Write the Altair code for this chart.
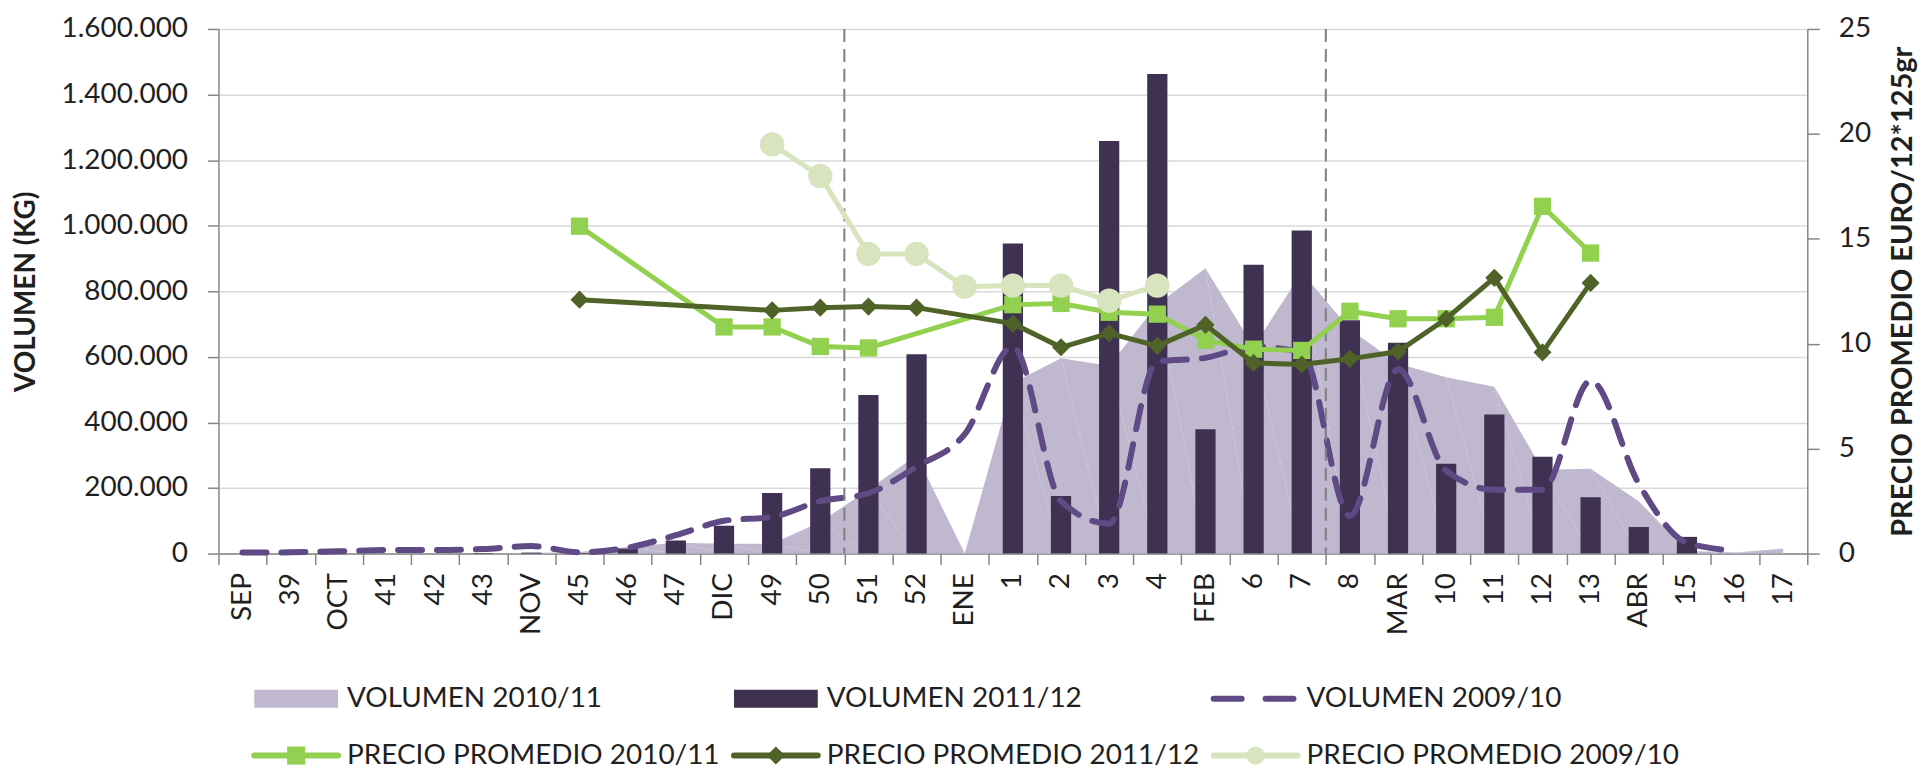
import altair as alt
import pandas as pd

# ---------------- data ----------------
cats = ["SEP", "39", "OCT", "41", "42", "43", "NOV", "45", "46", "47", "DIC", "49", "50",
        "51", "52", "ENE", "1", "2", "3", "4", "FEB", "6", "7", "8", "MAR", "10", "11",
        "12", "13", "ABR", "15", "16", "17"]

vol_2010_11 = [0, 0, 0, 0, 0, 0, 2000, 5000, 20000, 33000, 30000, 30000, 96000,
               195000, 300000, 0, 521000, 596000, 573000, 760000, 870000, 630000, 858000,
               684000, 579000, 538000, 509000, 256000, 259000, 160000, 9000, 3000, 15000]

vol_2011_12 = [0, 0, 0, 0, 0, 2000, 3000, 2000, 15000, 40000, 85000, 185000, 260000,
               484000, 608000, 0, 946000, 176000, 1258000, 1463000, 379000, 881000, 985000,
               712000, 643000, 274000, 424000, 295000, 172000, 81000, 51000, 0, 0]

vol_2009_10 = [3000, 4000, 7000, 11000, 11000, 14000, 23000, 4000, 18000, 56000, 100000,
               112000, 160000, 184000, 265000, 364000, 631000, 160000, 91000, 585000,
               597000, 631000, 614000, 115000, 562000, 253000, 195000, 195000, 527000,
               213000, 33000, 9000, None]

precio_2010_11 = [None, None, None, None, None, None, None, 15.6, None, None, 10.8, 10.8,
                  9.87, 9.8, None, None, 11.86, 11.92, 11.5, 11.41, 10.17, 9.74, 9.68,
                  11.55, 11.19, 11.19, 11.26, 16.55, 14.32, None, None, None, None]

precio_2011_12 = [None, None, None, None, None, None, None, 12.1, None, None, None, 11.59,
                  11.72, 11.77, 11.72, None, 10.96, 9.83, 10.5, 9.9, 10.9, 9.08, 9.01,
                  9.28, 9.63, 11.19, 13.14, 9.59, 12.9, None, None, None, None]

precio_2009_10 = [None, None, None, None, None, None, None, None, None, None, None, 19.5,
                  17.99, 14.28, 14.28, 12.72, 12.77, 12.77, 12.05, 12.77, None, None, None,
                  None, None, None, None, None, None, None, None, None, None]

separadores = ["51", "8"]

legend_labels = ["VOLUMEN 2010/11", "VOLUMEN 2011/12", "VOLUMEN 2009/10",
                 "PRECIO PROMEDIO 2010/11", "PRECIO PROMEDIO 2011/12", "PRECIO PROMEDIO 2009/10"]

# ---------------- styles ----------------
FONT = "Lato"
TXT = "#1F1F1F"
AXC = "#868686"
C_AREA = "#BFB8CE"
C_BAR = "#3F3151"
C_DASH = "#5F4A85"
C_P1 = "#92D050"
C_P2 = "#4F6228"
C_P3 = "#D7E4BD"
W, H = 1593, 526

order = list(range(len(cats)))
df = pd.DataFrame({"cat": cats, "ord": order, "v1011": vol_2010_11, "v1112": vol_2011_12})


def series(values, name):
    d = pd.DataFrame({"cat": cats, "ord": order, name: values})
    return d.dropna()


df_dash = series(vol_2009_10, "v0910")
df_p1 = series(precio_2010_11, "p")
df_p2 = series(precio_2011_12, "p")
df_p3 = series(precio_2009_10, "p")

x_axis = alt.Axis(title=None, labelAngle=270, labelFontSize=28, labelPadding=8, tickSize=11,
                  tickBand="extent", tickColor=AXC, domainColor=AXC, tickWidth=1.5,
                  domainWidth=1.5, grid=False, labelColor=TXT, labelFont=FONT)
x_scale = alt.Scale(domain=cats, paddingInner=0, paddingOuter=0)


def X(**kw):
    return alt.X("cat:N", sort=cats, scale=x_scale, axis=x_axis, **kw)


left_axis = alt.Axis(title="VOLUMEN (KG)", values=list(range(0, 1600001, 200000)),
                     labelExpr="replace(format(datum.value, ','), regexp(',', 'g'), '.')",
                     labelFontSize=28, titleFontSize=28, titleFontWeight="bold",
                     tickSize=11, labelPadding=20, titlePadding=21, grid=True,
                     gridColor="#D9D9D9", gridWidth=1.5, domainColor=AXC, tickColor=AXC,
                     domainWidth=1.5, tickWidth=1.5, labelColor=TXT, titleColor=TXT,
                     labelFont=FONT, titleFont=FONT)
left_scale = alt.Scale(domain=[0, 1600000], nice=False, zero=True)

right_axis = alt.Axis(title="PRECIO PROMEDIO EURO/12*125gr", orient="right",
                      values=[0, 5, 10, 15, 20, 25], labelFontSize=28, titleFontSize=29,
                      titleFontWeight="bold", titleAngle=270, titleBaseline="top",
                      tickSize=12, labelPadding=19, titlePadding=18, grid=False,
                      domainColor=AXC, tickColor=AXC, domainWidth=1.5, tickWidth=1.5,
                      labelColor=TXT, titleColor=TXT, labelFont=FONT, titleFont=FONT)
right_scale = alt.Scale(domain=[0, 25], nice=False, zero=True)

area = alt.Chart(df).mark_area(color=C_AREA, opacity=1).encode(
    x=X(), y=alt.Y("v1011:Q", scale=left_scale, axis=left_axis), order="ord:Q")

bars = alt.Chart(df).mark_bar(color=C_BAR, width=alt.RelativeBandSize(0.42)).encode(
    x=X(), y=alt.Y("v1112:Q", scale=left_scale, axis=left_axis))

dash = alt.Chart(df_dash).mark_line(color=C_DASH, strokeWidth=6, strokeDash=[24, 15],
                                    strokeCap="round", interpolate="monotone").encode(
    x=X(), y=alt.Y("v0910:Q", scale=left_scale, axis=left_axis), order="ord:Q")

seps = alt.Chart(pd.DataFrame({"cat": separadores})).mark_rule(
    color="#7F7F7F", strokeWidth=2, strokeDash=[13, 7]).encode(x=X(bandPosition=0))

left = alt.layer(area, bars, dash, seps)


def price_layers(d, color, shape, size):
    ln = alt.Chart(d).mark_line(color=color, strokeWidth=5).encode(
        x=X(), y=alt.Y("p:Q", scale=right_scale, axis=right_axis), order="ord:Q")
    pt = alt.Chart(d).mark_point(color=color, fill=color, filled=True, opacity=1,
                                 shape=shape, size=size).encode(
        x=X(), y=alt.Y("p:Q", scale=right_scale, axis=right_axis))
    return [ln, pt]


right = alt.layer(*(price_layers(df_p1, C_P1, "square", 300)
                    + price_layers(df_p2, C_P2, "diamond", 330)
                    + price_layers(df_p3, C_P3, "circle", 600)))

main = alt.layer(left, right).resolve_scale(y="independent").properties(width=W, height=H)

# ---------------- legend ----------------
leg = pd.DataFrame({"label": legend_labels,
                    "col": [0, 1, 2, 0, 1, 2],
                    "row": [0, 0, 0, 1, 1, 1]})
leg_colors = [C_AREA, C_BAR, C_DASH, C_P1, C_P2, C_P3]
leg_shapes = ["square", "square", "square", "square", "diamond", "circle"]

lx = alt.X("col:Q", scale=alt.Scale(domain=[-0.162, 3.150]), axis=None)
ly = alt.Y("row:Q", scale=alt.Scale(domain=[-0.5, 1.5], reverse=True), axis=None)
lc = alt.Color("label:N", scale=alt.Scale(domain=legend_labels, range=leg_colors), legend=None)

RECT = "M-1,-0.214L1,-0.214L1,0.214L-1,0.214Z"
HLINE = "M-1,0L1,0"
lbase = alt.Chart(leg)

sw_rect = lbase.transform_filter("datum.row == 0 && datum.col < 2").mark_point(
    shape=RECT, size=7056, filled=True, opacity=1).encode(x=lx, y=ly, color=lc)
sw_dash = lbase.transform_filter("datum.row == 0 && datum.col == 2").mark_point(
    shape=HLINE, size=7056, filled=False, opacity=1, strokeWidth=6,
    strokeDash=[28, 24], strokeCap="round").encode(x=lx, y=ly, color=lc)
sw_line = lbase.transform_filter("datum.row == 1").mark_point(
    shape=HLINE, size=7056, filled=False, opacity=1, strokeWidth=6,
    strokeCap="round").encode(x=lx, y=ly, color=lc)
sw_mark = lbase.transform_filter("datum.row == 1").mark_point(
    filled=True, opacity=1, size=330).encode(
    x=lx, y=ly, color=lc,
    shape=alt.Shape("label:N", scale=alt.Scale(domain=legend_labels, range=leg_shapes),
                    legend=None))
sw_text = lbase.mark_text(align="left", baseline="middle", dx=51, fontSize=28, font=FONT,
                          color=TXT).encode(x=lx, y=ly, text="label:N")

legend = alt.layer(sw_rect, sw_dash, sw_line, sw_mark, sw_text).properties(width=W, height=114)

chart = alt.vconcat(main, legend, spacing=35).configure_view(stroke=None).properties(
    padding={"left": 4, "top": 6, "right": 0, "bottom": 0})

chart.save("out.html", embed_options={"renderer": "svg", "actions": False})
